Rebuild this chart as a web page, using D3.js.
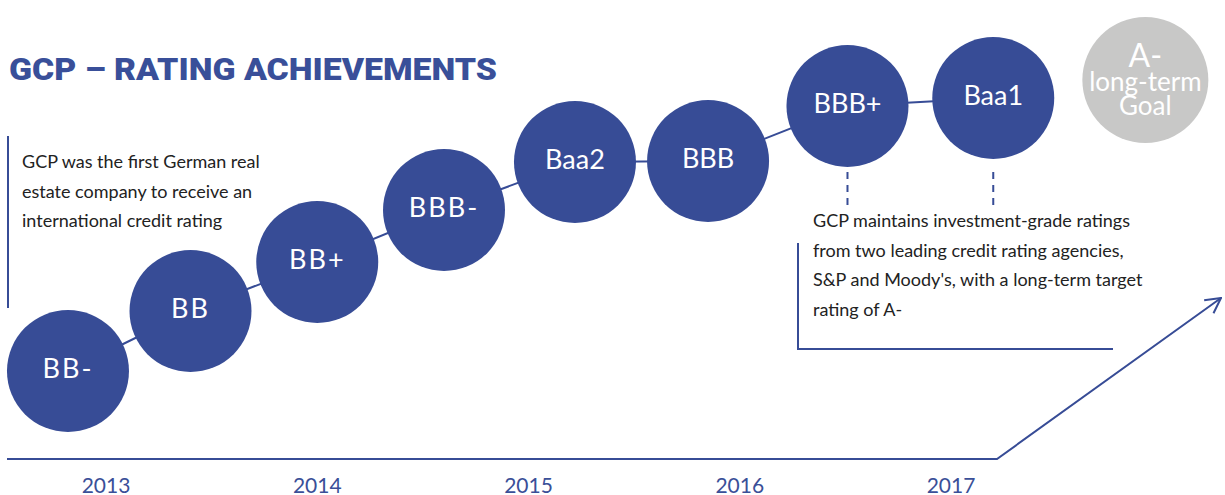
<!DOCTYPE html>
<html>
<head>
<meta charset="utf-8">
<script src="https://cdn.jsdelivr.net/npm/d3@7"></script>
<style>
  body { margin: 0; background: #fff; }
  svg { display: block; }
</style>
</head>
<body>
<div id="svgContainer"></div>
<script>
// ratings, position on the time line (decimal year) and step height
const ratings = ['BB-', 'BB', 'BB+', 'BBB-', 'Baa2', 'BBB', 'BBB+', 'Baa1']
const ratingPos = [2012.82, 2013.4, 2014.0, 2014.6, 2015.22, 2015.85, 2016.51, 2017.2]
const ratingLevel = [88, 148, 197, 249, 297, 298, 353, 361]

const goalLines = ['A-', 'long-term', 'Goal']
const goalPos = 2017.92
const goalLevel = 379

const years = [2013, 2014, 2015, 2016, 2017]

const leftNote = ['GCP was the first German real', 'estate company to receive an', 'international credit rating']
const rightNote = ['GCP maintains investment-grade ratings', 'from two leading credit rating agencies,',
  'S&P and Moody\'s, with a long-term target', 'rating of A-']

const width = 1225,
  height = 495
const blue = '#374c96'
const font = 'Lato, "Open Sans", sans-serif'

const x = d3.scaleLinear()
  .domain([2013, 2017])
  .range([106, 951])
const y = d3.scaleLinear()
  .domain([0, 400])
  .range([459, 59])
const r = 61

const svg = d3.select('#svgContainer')
  .append('svg')
  .attr('width', width)
  .attr('height', height)

svg.append('defs').append('marker')
  .attr('id', 'arrow')
  .attr('viewBox', '0 0 20 20')
  .attr('refX', 19)
  .attr('refY', 10)
  .attr('markerWidth', 20)
  .attr('markerHeight', 20)
  .attr('markerUnits', 'userSpaceOnUse')
  .attr('orient', 'auto')
  .append('path')
  .attr('d', 'M4,2 L19,10 L4,18')
  .attr('fill', 'none')
  .attr('stroke', blue)
  .attr('stroke-width', 2)

// title
svg.append('text')
  .text('GCP – RATING ACHIEVEMENTS')
  .attr('x', 9)
  .attr('y', 80)
  .attr('textLength', 488)
  .attr('lengthAdjust', 'spacingAndGlyphs')
  .style('font-family', 'Roboto, "DejaVu Sans", sans-serif')
  .style('font-weight', 900)
  .style('font-size', '32px')
  .style('fill', '#394f99')

// time line with arrow
const baseY = y(0)
svg.append('path')
  .attr('d', `M7,${baseY} L997,${baseY} L1221,298`)
  .attr('fill', 'none')
  .attr('stroke', blue)
  .attr('stroke-width', 2)
  .attr('marker-end', 'url(#arrow)')

svg.selectAll('.year')
  .data(years)
  .enter()
  .append('text')
  .attr('class', 'year')
  .attr('x', d => x(d))
  .attr('y', 493)
  .attr('text-anchor', 'middle')
  .text(d => d)
  .style('font-family', font)
  .style('font-size', '21px')
  .style('fill', '#3a4f98')

// left note
svg.append('line')
  .attr('x1', 8).attr('x2', 8)
  .attr('y1', 136).attr('y2', 308)
  .attr('stroke', blue)
  .attr('stroke-width', 2)

svg.selectAll('.leftNote')
  .data(leftNote)
  .enter()
  .append('text')
  .attr('class', 'leftNote')
  .attr('x', 22)
  .attr('y', (d, i) => 168 + i * 29.5)
  .text(d => d)
  .style('font-family', font)
  .style('font-size', '18px')
  .style('fill', '#222')

// right note
svg.append('path')
  .attr('d', 'M798,243 L798,349 L1113,349')
  .attr('fill', 'none')
  .attr('stroke', blue)
  .attr('stroke-width', 2)

svg.selectAll('.rightNote')
  .data(rightNote)
  .enter()
  .append('text')
  .attr('class', 'rightNote')
  .attr('x', 813)
  .attr('y', (d, i) => 227 + i * 29.7)
  .text(d => d)
  .style('font-family', font)
  .style('font-size', '18px')
  .style('fill', '#222')

// dashed leaders from the last two ratings
svg.selectAll('.leader')
  .data([6, 7])
  .enter()
  .append('line')
  .attr('x1', i => x(ratingPos[i]))
  .attr('x2', i => x(ratingPos[i]))
  .attr('y1', 172)
  .attr('y2', 206)
  .attr('stroke', blue)
  .attr('stroke-width', 2)
  .attr('stroke-dasharray', '7,6')

// connector
const pts = ratings.map((d, i) => [x(ratingPos[i]), y(ratingLevel[i])])
svg.append('path')
  .attr('d', d3.line()(pts))
  .attr('fill', 'none')
  .attr('stroke', blue)
  .attr('stroke-width', 2)

const nodes = svg.selectAll('.node')
  .data(ratings)
  .enter()
  .append('g')
  .attr('class', 'node')
  .attr('transform', (d, i) => `translate(${x(ratingPos[i])},${y(ratingLevel[i])})`)

nodes.append('circle')
  .attr('r', r)
  .style('fill', blue)

nodes.append('text')
  .text(d => d)
  .attr('text-anchor', 'middle')
  .attr('y', 7)
  .style('font-family', font)
  .style('font-size', '27px')
  .style('letter-spacing', (d, i) => i < 4 ? '2px' : '0px')
  .style('fill', '#fff')

// goal
const goal = svg.append('g')
  .attr('transform', `translate(${x(goalPos)},${y(goalLevel)})`)

goal.append('circle')
  .attr('r', 63)
  .style('fill', '#c8c8c7')

goal.selectAll('text')
  .data(goalLines)
  .enter()
  .append('text')
  .text(d => d)
  .attr('text-anchor', 'middle')
  .attr('y', (d, i) => [-13, 11, 35][i])
  .style('font-family', font)
  .style('font-size', (d, i) => i === 0 ? '32px' : '26px')
  .style('fill', '#fff')
</script>
</body>
</html>
